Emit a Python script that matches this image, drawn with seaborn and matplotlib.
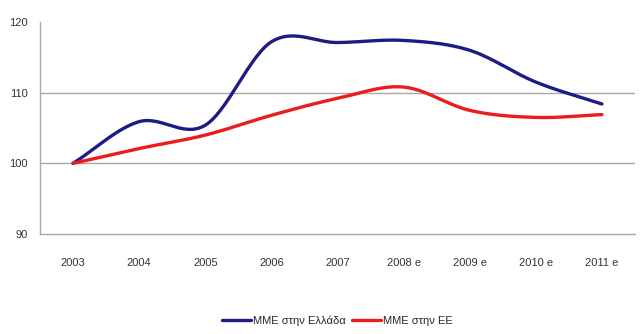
import numpy as np
import pandas as pd
import matplotlib
matplotlib.use("Agg")
import matplotlib.pyplot as plt
import seaborn as sns

years = ["2003", "2004", "2005", "2006", "2007", "2008 e", "2009 e", "2010 e", "2011 e"]
greece = [100.0, 105.9, 105.4, 117.2, 117.1, 117.4, 116.0, 111.5, 108.4]
eu = [100.0, 102.1, 104.0, 106.8, 109.2, 110.8, 107.5, 106.5, 106.9]
series_names = ["ΜΜΕ στην Ελλάδα", "ΜΜΕ στην ΕΕ"]
series_colors = ["#1c1c84", "#ec1c1c"]
y_ticks = [90, 100, 110, 120]


def smooth(values, steps=30):
    """Catmull-Rom curve through the points, like a spreadsheet 'smoothed line'."""
    v = np.asarray(values, dtype=float)
    x = np.arange(len(v), dtype=float)
    px = np.concatenate([[2 * x[0] - x[1]], x, [2 * x[-1] - x[-2]]])
    pv = np.concatenate([[2 * v[0] - v[1]], v, [2 * v[-1] - v[-2]]])
    xs, ys = [], []
    for i in range(1, len(px) - 2):
        t = np.linspace(0, 1, steps, endpoint=(i == len(px) - 3))
        for arr, out in ((px, xs), (pv, ys)):
            p0, p1, p2, p3 = arr[i - 1], arr[i], arr[i + 1], arr[i + 2]
            out.extend(0.5 * (2 * p1 + (-p0 + p2) * t
                              + (2 * p0 - 5 * p1 + 4 * p2 - p3) * t ** 2
                              + (-p0 + 3 * p1 - 3 * p2 + p3) * t ** 3))
    return np.array(xs), np.array(ys)


frames = []
for name, vals in zip(series_names, [greece, eu]):
    xs, ys = smooth(vals)
    frames.append(pd.DataFrame({"x": xs, "y": ys, "series": name}))
df = pd.concat(frames, ignore_index=True)

sns.set_style("white")
plt.rcParams["font.family"] = ["Liberation Sans Narrow", "Liberation Sans", "DejaVu Sans"]

fig = plt.figure(figsize=(6.43, 3.34), dpi=100)
ax = fig.add_axes([0.0622, 0.2994, 0.9254, 0.6346])

sns.lineplot(data=df, x="x", y="y", hue="series", palette=series_colors,
             linewidth=2.4, sort=False, estimator=None, ax=ax, legend=True)

ax.set_xlim(-0.5, len(years) - 0.5)
ax.set_ylim(90, 120)
ax.set_yticks(y_ticks)
ax.set_yticklabels([str(t) for t in y_ticks], fontsize=8, color="#333333")
ax.set_xticks(range(len(years)))
ax.set_xticklabels(years, fontsize=8, color="#333333")
ax.set_xticks(np.arange(-0.5, len(years), 1.0), minor=True)
ax.tick_params(axis="x", which="major", length=0, pad=17)
ax.tick_params(axis="x", which="minor", length=5, color="#a0a0a0", direction="out")
ax.tick_params(axis="y", length=4, color="#a0a0a0", direction="out", pad=5)
ax.set_xlabel("")
ax.set_ylabel("")

for y in [100, 110]:
    ax.axhline(y, color="#a8a8a8", linewidth=1.0, zorder=0)

for side in ["top", "right"]:
    ax.spines[side].set_visible(False)
for side in ["left", "bottom"]:
    ax.spines[side].set_color("#a8a8a8")
    ax.spines[side].set_linewidth(1.0)

handles, labels = ax.get_legend_handles_labels()
ax.legend(handles, labels, loc="center", bbox_to_anchor=(0.5, -0.41),
          ncol=2, frameon=False, fontsize=8, handlelength=2.6,
          handletextpad=0.2, columnspacing=0.6)

fig.savefig("out.png", dpi=100, facecolor="white")
